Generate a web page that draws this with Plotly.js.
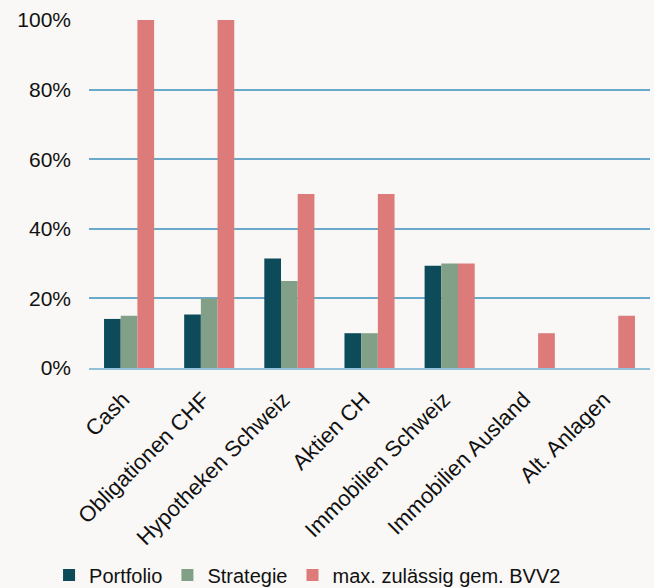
<!DOCTYPE html>
<html>
<head>
<meta charset="utf-8">
<script src="https://cdn.plot.ly/plotly-3.0.1.min.js"></script>
<style>html,body{margin:0;padding:0;background:#f9f8f6;}#chart{width:654px;height:588px;}</style>
</head>
<body>
<div id="chart"></div>
<script>
var categories = ["Cash", "Obligationen CHF", "Hypotheken Schweiz", "Aktien CH", "Immobilien Schweiz", "Immobilien Ausland", "Alt. Anlagen"];
var portfolio = [14.1, 15.4, 31.5, 10, 29.4, 0, 0];
var strategie = [15, 20, 25, 10, 30, 0, 0];
var maxBVV2 = [100, 100, 50, 50, 30, 10, 15];
var yTicks = [0, 20, 40, 60, 80, 100];
var yTickLabels = ["0%", "20%", "40%", "60%", "80%", "100%"];

var font = "Liberation Sans, Arial, sans-serif";
var traces = [
  {type: "bar", name: "Portfolio", x: categories, y: portfolio, marker: {color: "#0d4b5b"}},
  {type: "bar", name: "Strategie", x: categories, y: strategie, marker: {color: "#82a088"}},
  {type: "bar", name: "max. zulässig gem. BVV2", x: categories, y: maxBVV2, marker: {color: "#dc7b7a"}}
];
var layout = {
  width: 654, height: 588,
  paper_bgcolor: "#f9f8f6", plot_bgcolor: "#f9f8f6",
  margin: {l: 89, r: 4, t: 20, b: 220, autoexpand: false},
  barmode: "group", bargap: 0.375, bargroupgap: 0,
  font: {family: font, color: "#111111", size: 20},
  xaxis: {tickangle: -45, tickfont: {size: 22, family: font, color: "#111"}, showgrid: false,
          showline: true, linecolor: "#93c1d9", linewidth: 2, ticks: "", automargin: false,
          ticklabelstandoff: 8, ticklabelshift: -6},
  yaxis: {range: [0, 100], tickvals: yTicks, ticktext: yTickLabels, tickfont: {size: 21, family: font, color: "#111"},
          showgrid: true, gridcolor: "#6aa9c9", gridwidth: 2, zeroline: false, showline: false,
          ticks: "", ticklen: 0, automargin: false, ticklabelstandoff: 17},
  legend: {orientation: "h", xref: "container", x: 0.075, xanchor: "left", yref: "container", y: 0.022, yanchor: "middle",
           font: {size: 20, family: font, color: "#111"}, bgcolor: "rgba(0,0,0,0)",
           itemwidth: 30, tracegroupgap: 0},
  showlegend: true
};
Plotly.newPlot("chart", traces, layout, {displayModeBar: false, staticPlot: true});
</script>
</body>
</html>
